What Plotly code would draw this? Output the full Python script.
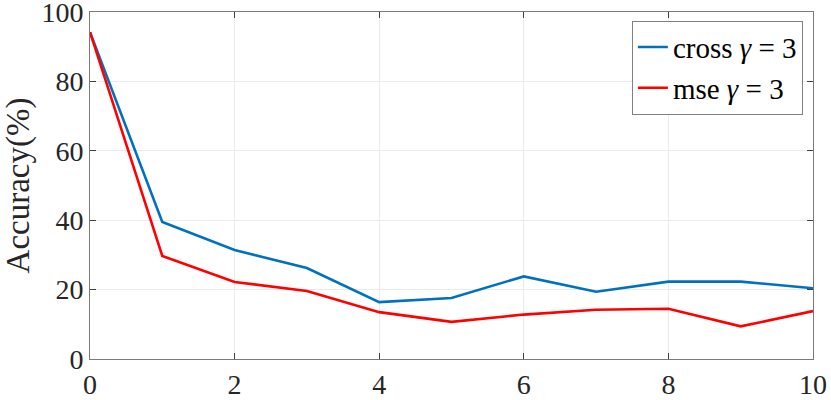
import plotly.graph_objects as go

x_vals = [0, 1, 2, 3, 4, 5, 6, 7, 8, 9, 10]
cross_acc = [94.2, 39.5, 31.4, 26.2, 16.4, 17.6, 23.8, 19.4, 22.3, 22.3, 20.4]
mse_acc = [94.2, 29.7, 22.2, 19.6, 13.5, 10.7, 12.8, 14.2, 14.5, 9.4, 13.8]
x_ticks = [0, 2, 4, 6, 8, 10]
y_ticks = [0, 20, 40, 60, 80, 100]

FONT = "Liberation Serif"

fig = go.Figure()
fig.add_trace(go.Scatter(x=x_vals, y=cross_acc, mode="lines",
                         name="cross <i>γ</i> = 3",
                         line=dict(color="#0072BD", width=2.6)))
fig.add_trace(go.Scatter(x=x_vals, y=mse_acc, mode="lines",
                         name="mse <i>γ</i> = 3",
                         line=dict(color="#FF0000", width=2.6)))

axis_common = dict(showline=True, linecolor="#7A7A7A", linewidth=1, mirror="ticks",
                   ticks="inside", ticklen=6, tickcolor="#404040",
                   showgrid=True, gridcolor="#EBEBEB", gridwidth=1,
                   zeroline=False, automargin=False, ticklabeloverflow="allow",
                   tickfont=dict(family=FONT, size=28, color="#262626"))

fig.update_xaxes(range=[0, 10], tickvals=x_ticks, **axis_common)
fig.update_yaxes(range=[0, 100], tickvals=y_ticks,
                 title=dict(text="Accuracy(%)", font=dict(family=FONT, size=33, color="#262626"),
                            standoff=2),
                 **axis_common)

fig.update_layout(
    width=831, height=400,
    margin=dict(l=90, r=18, t=12, b=41),
    plot_bgcolor="white", paper_bgcolor="white",
    font=dict(family=FONT, color="#262626"),
    legend=dict(x=0.986, y=0.975, xanchor="right", yanchor="top",
                bgcolor="white", bordercolor="#808080", borderwidth=1,
                font=dict(family=FONT, size=29, color="#000000"),
                tracegroupgap=0, itemwidth=30),
    showlegend=True,
)

fig.write_html("out.html", config={"displayModeBar": False},
               post_script="document.body.style.margin='0';document.body.style.overflow='hidden';")
